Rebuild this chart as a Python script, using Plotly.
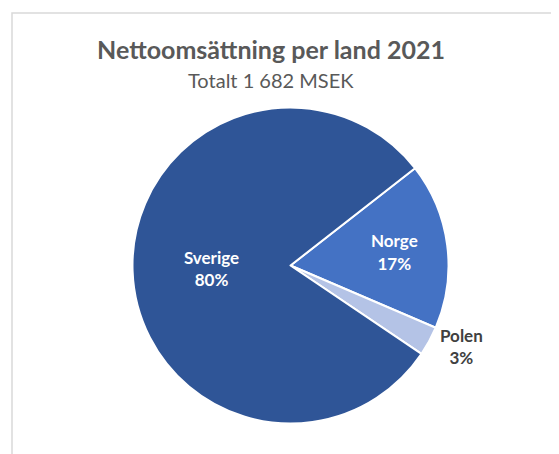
import plotly.graph_objects as go

labels = ["Norge", "Polen", "Sverige"]
values = [17, 3, 80]
colors = ["#4472C4", "#B4C3E6", "#2F5597"]
text_colors = ["white", "#404040", "white"]
positions = ["inside", "outside", "inside"]

title = "Nettoomsättning per land 2021"
subtitle = "Totalt 1 682 MSEK"

W, H = 559, 454
OFF = 8  # page body margin
cx, cy, r = 290.5 - OFF, 265.5 - OFF, 158

fig = go.Figure(go.Pie(
    labels=labels,
    values=values,
    sort=False,
    direction="clockwise",
    rotation=52,
    marker=dict(colors=colors, line=dict(color="white", width=2)),
    texttemplate="<b>%{label}</b><br><b>%{percent:.0%}</b>",
    textposition=positions,
    insidetextorientation="horizontal",
    textfont=dict(family="Lato", size=17, color=text_colors),
    showlegend=False,
    hoverinfo="label+percent",
    domain=dict(x=[(cx - r) / W, (cx + r) / W], y=[1 - (cy + r) / H, 1 - (cy - r) / H]),
))

fig.update_layout(
    width=W, height=H,
    margin=dict(l=0, r=0, t=0, b=0),
    paper_bgcolor="white",
    font=dict(family="Lato", color="#595959"),
    title=dict(text="<b>" + title + "</b>", x=(271 - OFF) / W, xanchor="center",
               y=1 - (50 - OFF) / H, yanchor="middle",
               font=dict(family="Lato", size=25, color="#595959")),
    annotations=[dict(text=subtitle, x=(271 - OFF) / W, y=1 - (80 - OFF) / H, xref="paper", yref="paper",
                      xanchor="center", yanchor="middle", showarrow=False,
                      font=dict(family="Lato", size=20, color="#595959"))],
    shapes=[dict(type="rect", xref="paper", yref="paper", x0=(12 - OFF) / W, x1=1.05, y0=-0.05,
                 y1=1 - (13 - OFF) / H,
                 line=dict(color="#D9D9D9", width=1.5), fillcolor="rgba(0,0,0,0)", layer="below")],
)

fig.write_html("out.html")
